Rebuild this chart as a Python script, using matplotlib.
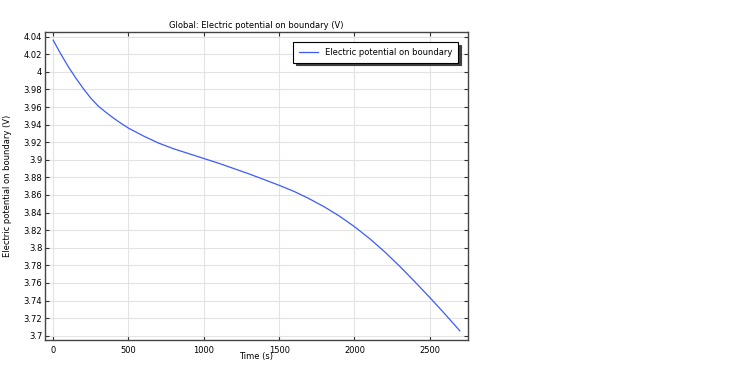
import numpy as np
import matplotlib.pyplot as plt

# time (s) and electric potential on boundary (V)
t = [0, 50, 100, 150, 200, 250, 300, 350, 400, 450, 500, 600, 700, 800, 900,
     1000, 1100, 1200, 1300, 1400, 1500, 1600, 1700, 1800, 1900, 2000, 2100,
     2200, 2300, 2400, 2500, 2600, 2700]
V = [4.036, 4.0205, 4.006, 3.993, 3.981, 3.970, 3.961, 3.954, 3.9475, 3.9415,
     3.936, 3.927, 3.919, 3.9125, 3.907, 3.9015, 3.896, 3.890, 3.884, 3.8775,
     3.871, 3.864, 3.8557, 3.8465, 3.836, 3.824, 3.8105, 3.7955, 3.779, 3.7615,
     3.7435, 3.7248, 3.7055]

xticks = [0, 500, 1000, 1500, 2000, 2500]
yticks = np.round(np.arange(3.70, 4.041, 0.02), 2)
ylabels = ["{:g}".format(v) for v in yticks]

plt.rcParams['font.family'] = ['DejaVu Sans']
plt.rcParams['font.size'] = 6

fig = plt.figure(figsize=(7.37, 3.73), dpi=100)
ax = fig.add_axes([0.0611, 0.0885, 0.5739, 0.8257])

ax.plot(t, V, "-", color='#3b5bff', linewidth=0.9, label="Electric potential on boundary")

ax.set_xlim(-54, 2754)
ax.set_ylim(3.6951, 4.0453)
ax.set_xticks(xticks)
ax.set_yticks(yticks)
ax.set_yticklabels(ylabels)
ax.grid(True, color='#e3e3e3', linewidth=0.8)
ax.set_axisbelow(True)

ax.tick_params(direction='in', length=3, width=0.8, color='#333333',
               top=True, right=True, labelsize=6, pad=2)
ax.tick_params(axis='x', pad=4)
for s in ax.spines.values():
    s.set_color('#444444')
    s.set_linewidth(1.0)

ax.set_title("Global: Electric potential on boundary (V)", fontsize=6, pad=3)
ax.set_xlabel("Time (s)", fontsize=6, labelpad=-2)
ax.set_ylabel("Electric potential on boundary (V)", fontsize=6, labelpad=8)

leg = ax.legend(loc='upper right', fontsize=6, frameon=True, fancybox=False,
                shadow={'color': '0.25', 'alpha': 1}, handlelength=2.3,
                borderaxespad=1.2, borderpad=0.7)
leg.get_frame().set_edgecolor('black')
leg.get_frame().set_linewidth(0.8)

fig.savefig("out.png", dpi=100)
